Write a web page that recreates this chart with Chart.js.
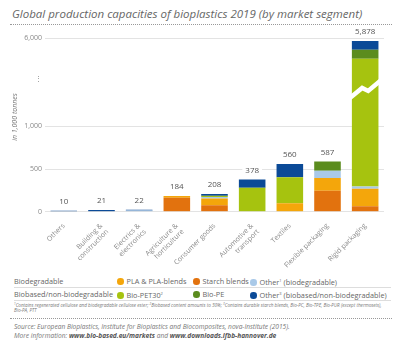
<!DOCTYPE html>
<html>
<head>
<meta charset="utf-8">
<script src="https://cdn.jsdelivr.net/npm/chart.js@4.4.1/dist/chart.umd.min.js"></script>
<style>
  html, body { margin:0; padding:0; background:#fff; }
  body { width:400px; height:347px; position:relative; overflow:hidden; font-family:"Open Sans", sans-serif; color:#666; }
  .abs { position:absolute; white-space:nowrap; }
  #title { left:12px; top:5.5px; font-size:11.5px; font-style:italic; color:#666; }
  .dotted { position:absolute; left:10px; width:382px; height:0; border-top:1px dotted #999; }
  #chartBox { position:absolute; left:0; top:28px; width:400px; height:240px; }
  .leg { font-size:7.3px; color:#666; line-height:10px; }
  .dot { display:inline-block; width:6.5px; height:6.5px; border-radius:50%; margin-right:3px; vertical-align:-0.7px; }
  .rule { position:absolute; left:14px; width:377px; height:0; border-top:1px solid #ddd; }
  sup { font-size:4px; vertical-align:3px; }
  #foot sup { font-size:3px; vertical-align:2px; }
  #foot { left:14px; top:301.5px; font-size:4.6px; font-style:italic; color:#777; line-height:5px; white-space:normal; width:370px; }
  .src { left:14px; font-size:6.6px; font-style:italic; color:#777; }
  .src b { color:#555; }
</style>
</head>
<body>
<div id="title" class="abs">Global production capacities of bioplastics 2019 (by market segment)</div>
<div class="dotted" style="top:24px"></div>
<div id="chartBox"><canvas id="c"></canvas></div>

<div class="abs leg" style="left:14px; top:276px">Biodegradable</div>
<div class="abs leg" style="left:117px; top:276px"><span class="dot" style="background:#f4a60b"></span>PLA &amp; PLA-blends</div>
<div class="abs leg" style="left:193px; top:276px"><span class="dot" style="background:#e2720e"></span>Starch blends</div>
<div class="abs leg" style="left:250px; top:276px"><span class="dot" style="background:#a9c9e8"></span>Other<sup>1</sup> (biodegradable)</div>
<div class="rule" style="top:287px"></div>
<div class="abs leg" style="left:14px; top:289px">Biobased/non-biodegradable</div>
<div class="abs leg" style="left:117px; top:289px"><span class="dot" style="background:#a6c30f"></span>Bio-PET30<sup>2</sup></div>
<div class="abs leg" style="left:193px; top:289px"><span class="dot" style="background:#5b8c1e"></span>Bio-PE</div>
<div class="abs leg" style="left:250px; top:289px"><span class="dot" style="background:#0b4a97"></span>Other<sup>3</sup> (biobased/non-biodegradable)</div>
<div class="rule" style="top:300px"></div>
<div id="foot" class="abs"><sup>1</sup>Contains regenerated cellulose and biodegradable cellulose ester; <sup>2</sup>Biobased content amounts to 30%; <sup>3</sup>Contains durable starch blends, Bio-PC, Bio-TPE, Bio-PUR (except thermosets), Bio-PA, PTT</div>
<div class="dotted" style="top:318px"></div>
<div class="abs src" style="top:322px">Source: European Bioplastics, Institute for Bioplastics and Biocomposites, nova-Institute (2015).</div>
<div class="abs src" style="top:331px">More information: <b>www.bio-based.eu/markets</b> and <b>www.downloads.ifbb-hannover.de</b></div>

<script>
// ---------- DATA ----------
const categories = ['Others', ['Building &', 'construction'], ['Electrics &', 'electronics'], ['Agriculture &', 'horticulture'], 'Consumer goods', ['Automotive &', 'transport'], 'Textiles', 'Flexible packaging', 'Rigid packaging'];
const starchBlends   = [0, 0, 0, 164, 75, 0, 0, 246, 64];
const plaBlends      = [0, 0, 0, 20, 80, 0, 98, 149, 205];
const otherBiodeg    = [0, 0, 14, 0, 18, 0, 0, 86, 27];
const bioPET30       = [0, 0, 0, 0, 10, 282, 305, 0, 5350];
const bioPE          = [0, 0, 0, 0, 5, 0, 0, 106, 118];
const otherBiobased  = [10, 21, 8, 0, 20, 96, 157, 0, 114];
const yTickValues    = [0, 500, 1000, 6000];
const breakTickValue = 5380;   // position of the "⋮" marker on the broken axis
const breakMidValue  = 3350;   // where the zigzag break is drawn

// ---------- broken (piecewise linear) value axis ----------
const breakMap = [[0, 0], [1350, 0.6632], [5350, 0.7507], [5880, 0.9833], [6000, 1]];
function toFrac(v) {
  for (let i = 1; i < breakMap.length; i++) {
    const [v0, f0] = breakMap[i - 1], [v1, f1] = breakMap[i];
    if (v <= v1 || i === breakMap.length - 1) return f0 + (v - v0) / (v1 - v0) * (f1 - f0);
  }
}
function fromFrac(f) {
  for (let i = 1; i < breakMap.length; i++) {
    const [v0, f0] = breakMap[i - 1], [v1, f1] = breakMap[i];
    if (f <= f1 || i === breakMap.length - 1) return v0 + (f - f0) / (f1 - f0) * (v1 - v0);
  }
}
class BrokenLinearScale extends Chart.LinearScale {
  getPixelForValue(value) {
    if (value === null || value === undefined || isNaN(value)) return NaN;
    return this.getPixelForDecimal(toFrac(value));
  }
  getValueForPixel(pixel) { return fromFrac(this.getDecimalForPixel(pixel)); }
}
BrokenLinearScale.id = 'brokenLinear';
BrokenLinearScale.defaults = Chart.LinearScale.defaults;
Chart.register(BrokenLinearScale);

const colors = {
  starch: '#e2720e', pla: '#f4a60b', otherBio: '#a9c9e8',
  pet: '#a6c30f', pe: '#5b8c1e', otherBB: '#0b4a97'
};

const FONT = '"Open Sans", sans-serif';

const overlayPlugin = {
  id: 'overlay',
  afterDatasetsDraw(chart) {
    const ctx = chart.ctx;
    const y = chart.scales.y;
    const n = categories.length;
    const sets = chart.data.datasets;
    // zigzag break on the tallest bar
    const last = chart.getDatasetMeta(3).data[n - 1];
    const yc = y.getPixelForValue(breakMidValue);
    const hw = last.width / 2;
    ctx.save();
    ctx.strokeStyle = '#fff';
    ctx.lineWidth = 4.5;
    ctx.beginPath();
    ctx.moveTo(last.x - hw - 2, yc + 9);
    ctx.lineTo(last.x - 3, yc - 1);
    ctx.lineTo(last.x + 3, yc + 2);
    ctx.lineTo(last.x + hw + 4, yc - 10);
    ctx.stroke();
    ctx.restore();
    // totals
    ctx.save();
    ctx.font = '8px ' + FONT;
    ctx.textAlign = 'center';
    ctx.textBaseline = 'middle';
    for (let i = 0; i < n; i++) {
      let total = 0;
      sets.forEach(ds => total += ds.data[i]);
      const x = chart.getDatasetMeta(0).data[i].x;
      const top = y.getPixelForValue(total);
      const ty = top - 9;
      const txt = total.toLocaleString('en-US');
      const w = ctx.measureText(txt).width;
      ctx.fillStyle = '#fff';
      ctx.fillRect(x - w / 2 - 3, ty - 5, w + 6, 10);
      ctx.fillStyle = '#555';
      ctx.fillText(txt, x, ty);
    }
    ctx.restore();
    // y axis title
    ctx.save();
    ctx.translate(15, 89);
    ctx.rotate(-Math.PI / 2);
    ctx.font = 'italic 7px ' + FONT;
    ctx.fillStyle = '#777';
    ctx.textAlign = 'center';
    ctx.textBaseline = 'middle';
    ctx.fillText('in 1,000 tonnes', 0, 0);
    ctx.restore();
  }
};

const mk = (label, data, color) => ({ label, data, backgroundColor: color, borderWidth: 0, barPercentage: 0.85, categoryPercentage: 0.83 });

new Chart(document.getElementById('c'), {
  type: 'bar',
  data: {
    labels: categories,
    datasets: [
      mk('Starch blends', starchBlends, colors.starch),
      mk('PLA & PLA-blends', plaBlends, colors.pla),
      mk('Other (biodegradable)', otherBiodeg, colors.otherBio),
      mk('Bio-PET30', bioPET30, colors.pet),
      mk('Bio-PE', bioPE, colors.pe),
      mk('Other (biobased/non-biodegradable)', otherBiobased, colors.otherBB)
    ]
  },
  options: {
    responsive: true,
    maintainAspectRatio: false,
    animation: false,
    layout: { padding: { top: 10, right: 16, left: 0, bottom: 0 } },
    plugins: { legend: { display: false }, tooltip: { enabled: false }, title: { display: false } },
    scales: {
      x: {
        stacked: true,
        grid: { display: false },
        border: { display: false },
        ticks: { autoSkip: false, maxRotation: 45, minRotation: 45, padding: 2, color: '#888', font: { size: 7, family: FONT } },
        afterFit(scale) { scale.height = 56.3; }
      },
      y: {
        type: 'brokenLinear',
        stacked: true,
        min: 0, max: 6000,
        border: { display: false },
        grid: {
          color: ctx => (ctx.tick && ctx.tick.value === breakTickValue) ? 'rgba(0,0,0,0)' : '#e3e3e3',
          lineWidth: 1,
          drawTicks: false
        },
        ticks: {
          padding: 3,
          color: '#888',
          font: { size: 7, family: FONT },
          callback: v => v === breakTickValue ? '⋮' : Number(v).toLocaleString('en-US')
        },
        afterBuildTicks(scale) {
          scale.ticks = yTickValues.concat([breakTickValue]).sort((a, b) => a - b).map(v => ({ value: v }));
        },
        afterFit(scale) { scale.width = 45; }
      }
    }
  },
  plugins: [overlayPlugin]
});
</script>
</body>
</html>
